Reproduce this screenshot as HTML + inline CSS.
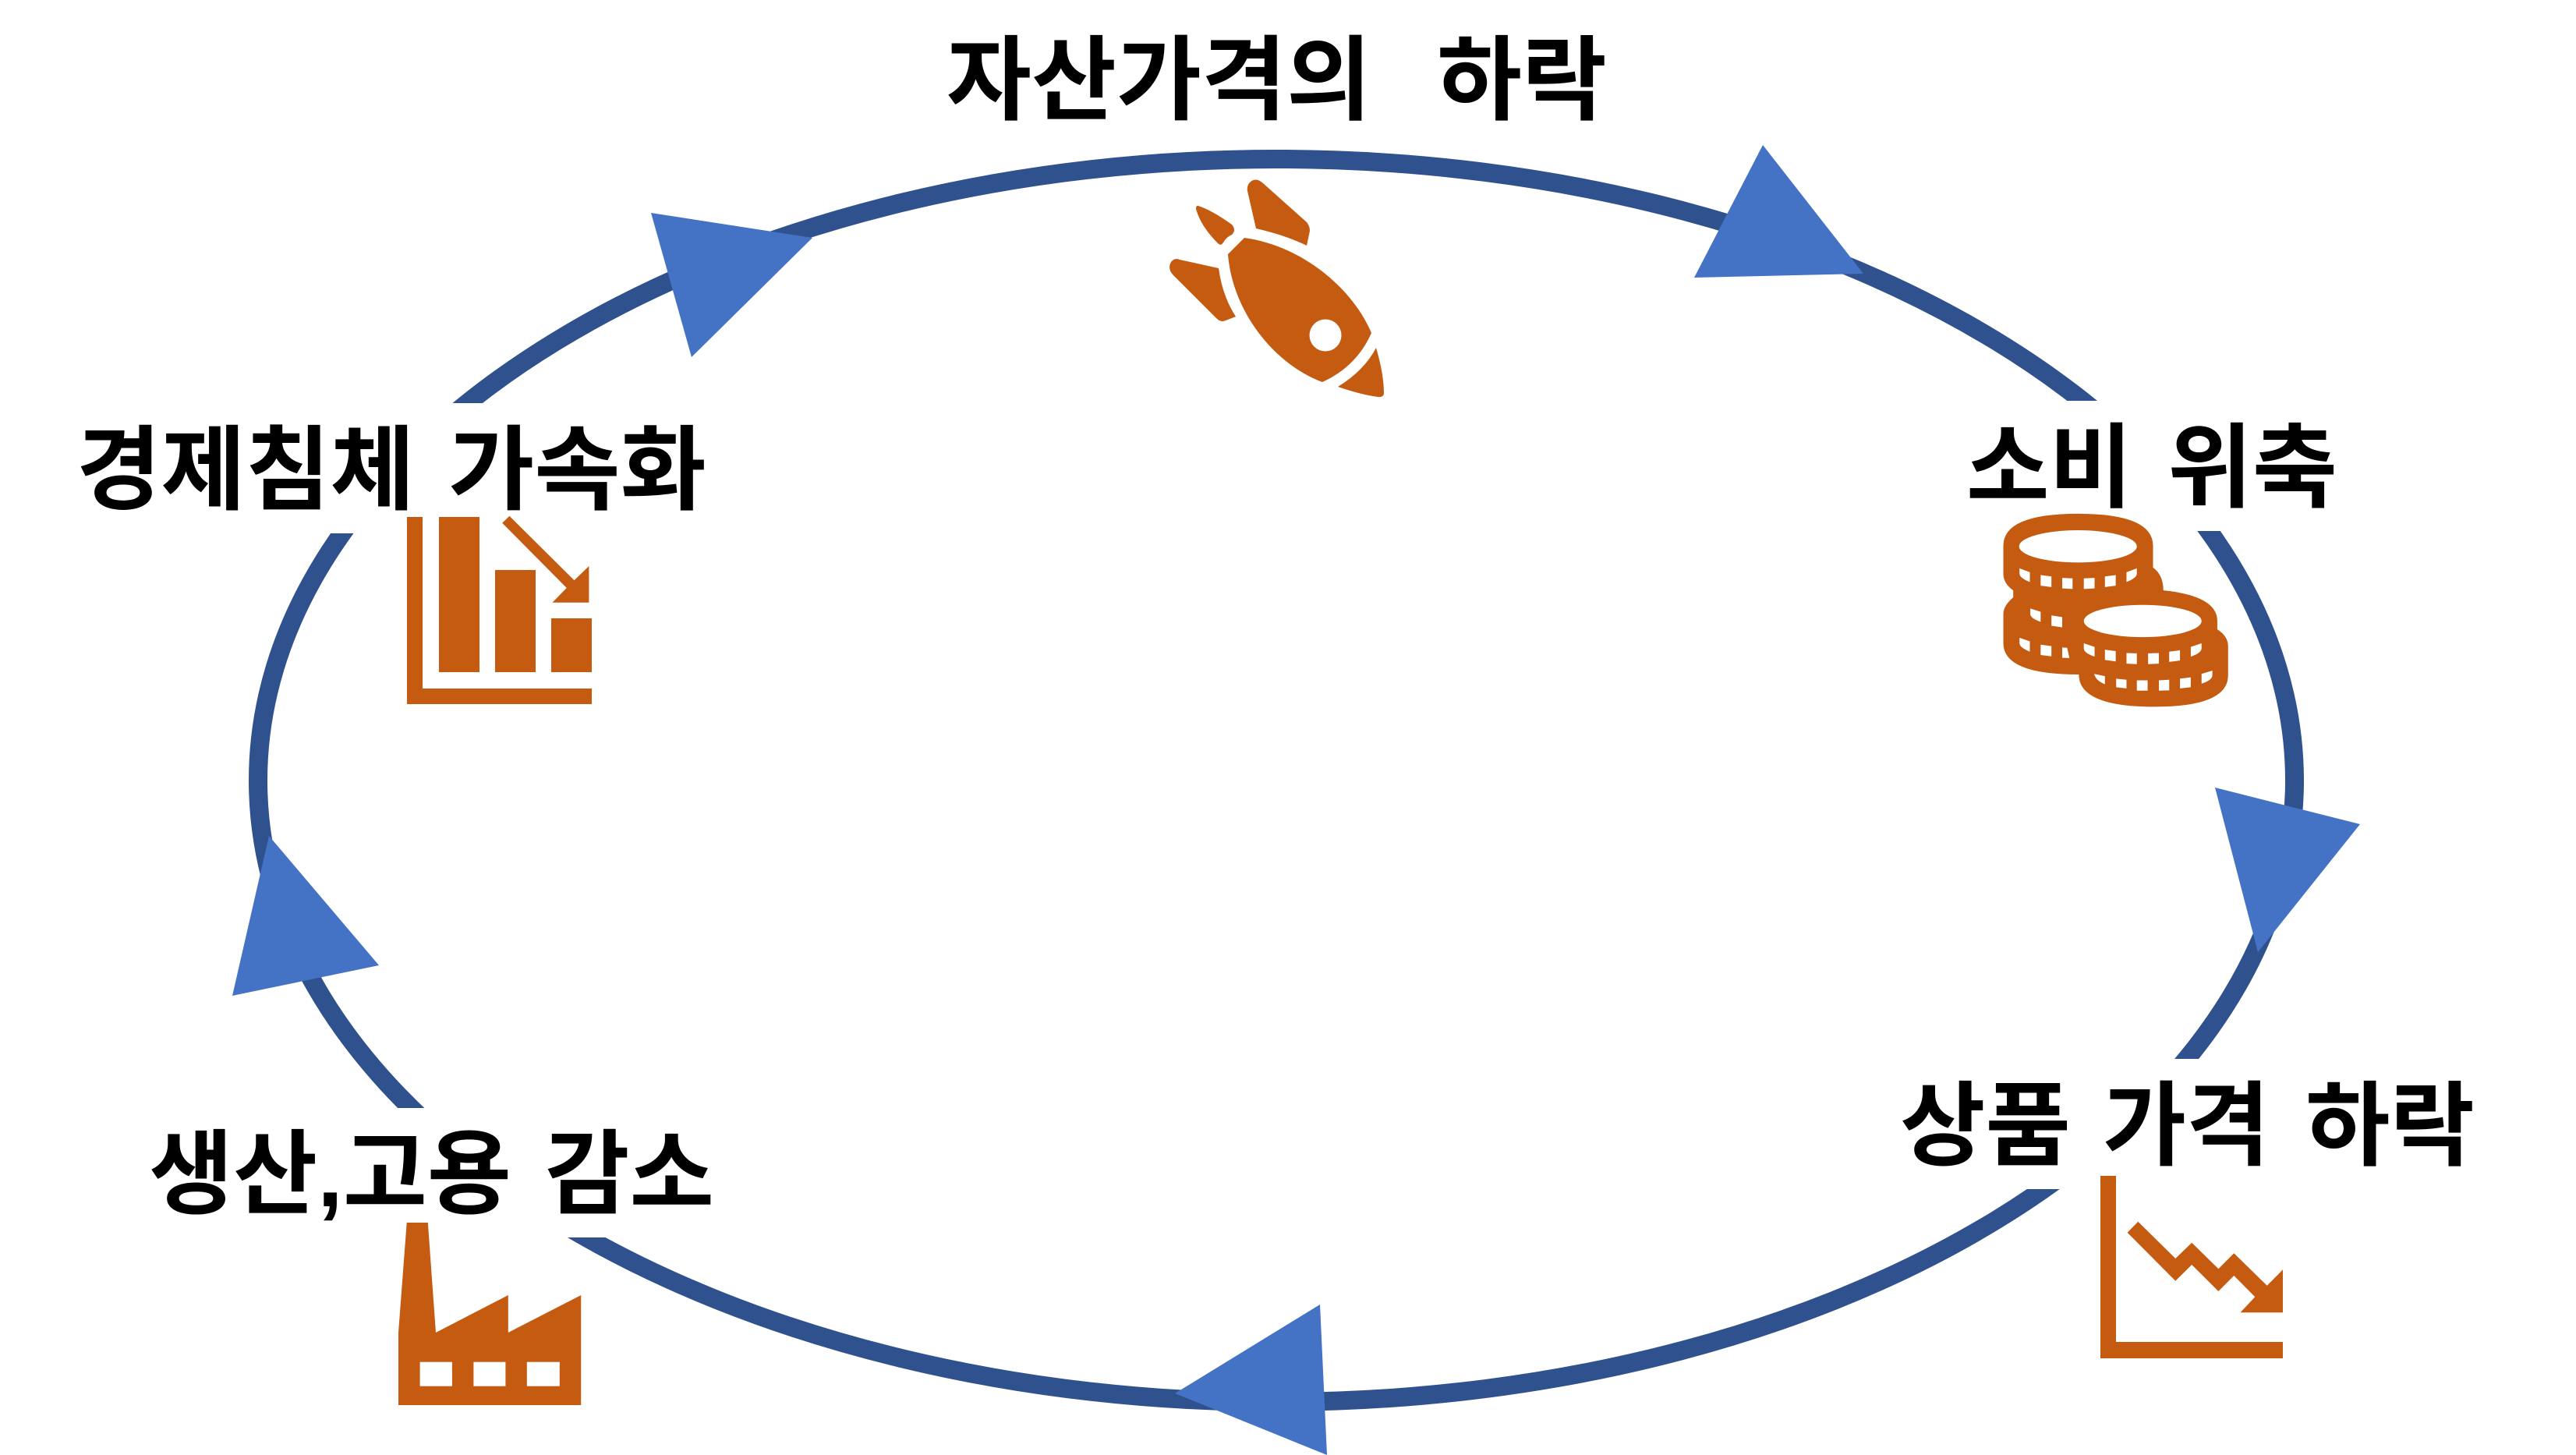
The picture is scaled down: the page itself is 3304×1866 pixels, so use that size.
<!DOCTYPE html>
<html lang="ko">
<head>
<meta charset="utf-8">
<title>자산가격의 하락 순환</title>
<style>
html,body{margin:0;padding:0;background:#fff;width:3304px;height:1866px;overflow:hidden}
svg{display:block}
text{font-family:"Liberation Sans","Noto Sans CJK KR",sans-serif;font-weight:700;font-size:118px;fill:#000;white-space:pre}
</style>
</head>
<body>
<svg xmlns="http://www.w3.org/2000/svg" width="3304" height="1866" viewBox="0 0 3304 1866">
<rect width="3304" height="1866" fill="#fff"/>
<ellipse cx="1637" cy="1001" rx="1306" ry="797" fill="none" stroke="#2F528F" stroke-width="24"/>
<rect x="2380" y="514" width="620" height="167" fill="#fff"/>
<rect x="240" y="517" width="520" height="167" fill="#fff"/>
<rect x="330" y="1421" width="500" height="166" fill="#fff"/>
<rect x="2500" y="1358" width="400" height="167" fill="#fff"/>

<polygon points="2261,186 2173,356 2390,351" fill="#4472C4"/>
<polygon points="835,273 1042,305 887,458" fill="#4472C4"/>
<polygon points="2841,1010 3027,1057 2896,1221" fill="#4472C4"/>
<polygon points="1507,1787 1693,1673 1702,1866" fill="#4472C4"/>
<polygon points="345,1072 486,1238 298,1277" fill="#4472C4"/>

<text x="1214" y="144" textLength="545" lengthAdjust="spacingAndGlyphs">자산가격의</text>
<text x="1843" y="144" textLength="218" lengthAdjust="spacingAndGlyphs">하락</text>
<text x="2522" y="641" textLength="213" lengthAdjust="spacingAndGlyphs">소비</text>
<text x="2780" y="641" textLength="218" lengthAdjust="spacingAndGlyphs">위축</text>
<text x="98" y="644" textLength="434" lengthAdjust="spacingAndGlyphs">경제침체</text>
<text x="575" y="644" textLength="331" lengthAdjust="spacingAndGlyphs">가속화</text>
<text x="191" y="1547" textLength="465" lengthAdjust="spacingAndGlyphs">생산,고용</text>
<text x="699" y="1547" textLength="217" lengthAdjust="spacingAndGlyphs">감소</text>
<text x="2437" y="1485" textLength="219" lengthAdjust="spacingAndGlyphs">상품</text>
<text x="2697" y="1485" textLength="214" lengthAdjust="spacingAndGlyphs">가격</text>
<text x="2957" y="1485" textLength="217" lengthAdjust="spacingAndGlyphs">하락</text>

<g fill="#C55A11">
<!-- rocket -->
<path d="M1575 326 L1596 305 C1670 315 1735 370 1759 427 Q1740 470 1696 490 C1630 465 1580 395 1575 326Z"/>
<circle cx="1700" cy="430" r="20.5" fill="#fff"/>
<path d="M1611 293 Q1650 302 1676 315 L1680 296 Q1680 290 1676 285 L1620 235 Q1610 226 1602 235 Q1599 240 1600 245Z"/>
<path d="M1537 264 Q1555 270 1580 288 Q1586 295 1580 301 Q1573 304 1569 311 Q1566 316 1562 312 Q1540 290 1534 268 Q1534 263 1537 264Z"/>
<path d="M1563 344 Q1568 380 1585 406 L1572 411 Q1566 414 1560 408 L1505 353 Q1497 345 1502 336 Q1507 330 1513 333Z"/>
<path d="M1765 446 Q1775 480 1775 505 Q1774 510 1767 509 Q1745 506 1716 496 Q1750 475 1765 446Z"/>

<!-- bar chart -->
<polygon points="522,663 542,663 542,883 759,883 759,903 522,903"/>
<rect x="563" y="663" width="52" height="199"/>
<rect x="635" y="731" width="52" height="131"/>
<rect x="707" y="793" width="52" height="69"/>
<polygon points="653.4,661.7 736.5,744.3 755.4,726 755.4,772.7 708.5,772.7 726.8,754 644.2,670.7"/>

<!-- line chart -->
<polygon points="2694,1508 2714,1508 2714,1721 2928,1721 2928,1742 2694,1742"/>
<polygon points="2742.3,1566.7 2790.3,1614 2811.2,1593.7 2845.4,1627.3 2865.3,1607.3 2907.7,1648.7 2928,1628.3 2928,1683.3 2873.5,1683.3 2892.3,1663.3 2865.3,1636 2845.4,1656 2811.2,1622 2790.3,1642.7 2728.6,1580.7"/>

<!-- factory -->
<polygon points="521.7,1568 548.8,1568 559,1709 651.8,1661 651.8,1709 745.2,1661 745.2,1802 511,1802 511,1709"/>
<g fill="#fff">
<rect x="538.6" y="1746.7" width="41.3" height="31"/>
<rect x="607.4" y="1746.7" width="41" height="31"/>
<rect x="675.8" y="1746.7" width="42" height="31"/>
</g>

<!-- coins (coordinates in magnified crop space) -->
<g transform="translate(2400,450) scale(0.57653,0.35714)">
<path d="M294 700 Q294 585 460 585 Q627 585 627 700 L627 778 Q650 805 650 860 Q770 880 770 970 L770 1000 Q794 1025 794 1060 L794 1165 Q794 1278 630 1278 Q462 1278 462 1162 Q294 1162 294 1050 L294 945 Q294 915 316 885 L316 860 Q294 835 294 800Z"/>
<g fill="#fff">
<ellipse cx="460" cy="702" rx="131" ry="58"/>
<ellipse cx="604" cy="970" rx="131" ry="58"/>
<path d="M330 781 L353 795 L353 830 Q330 815 330 800Z"/>
<polygon points="377,805 401,810 401,848 377,843"/>
<polygon points="425,815 448,817 448,855 425,853"/>
<polygon points="473,817 497,815 497,853 473,855"/>
<polygon points="520,810 544,805 544,843 520,848"/>
<path d="M568 795 L591 781 L591 800 Q591 815 568 830Z"/>
<path d="M354 925 L377 937 L377 973 Q354 960 354 945Z"/>
<polygon points="401,950 425,956 425,993 401,987"/>
<path d="M330 1030 L353 1043 L353 1080 Q330 1065 330 1050Z"/>
<polygon points="377,1055 401,1060 401,1097 377,1092"/>
<polygon points="425,1065 436,1066 441,1103 425,1102"/>
<path d="M473 1050 L497 1063 L497 1098 Q473 1085 473 1068Z"/>
<polygon points="520,1073 544,1078 544,1115 520,1110"/>
<polygon points="568,1085 591,1086 591,1125 568,1123"/>
<polygon points="616,1086 640,1085 640,1123 616,1125"/>
<polygon points="663,1080 687,1075 687,1112 663,1117"/>
<path d="M711 1063 L735 1050 L735 1068 Q735 1085 711 1098Z"/>
<path d="M496 1160 L520 1168 L520 1197 Q500 1185 496 1160Z"/>
<polygon points="545,1177 568,1181 568,1212 545,1208"/>
<polygon points="591,1183 615,1183 615,1220 591,1220"/>
<polygon points="640,1183 663,1181 663,1219 640,1220"/>
<polygon points="687,1177 711,1172 711,1208 687,1212"/>
<path d="M735 1160 L759 1148 L759 1165 Q759 1182 735 1195Z"/>
</g>
</g>
</g>
</svg>
</body>
</html>
